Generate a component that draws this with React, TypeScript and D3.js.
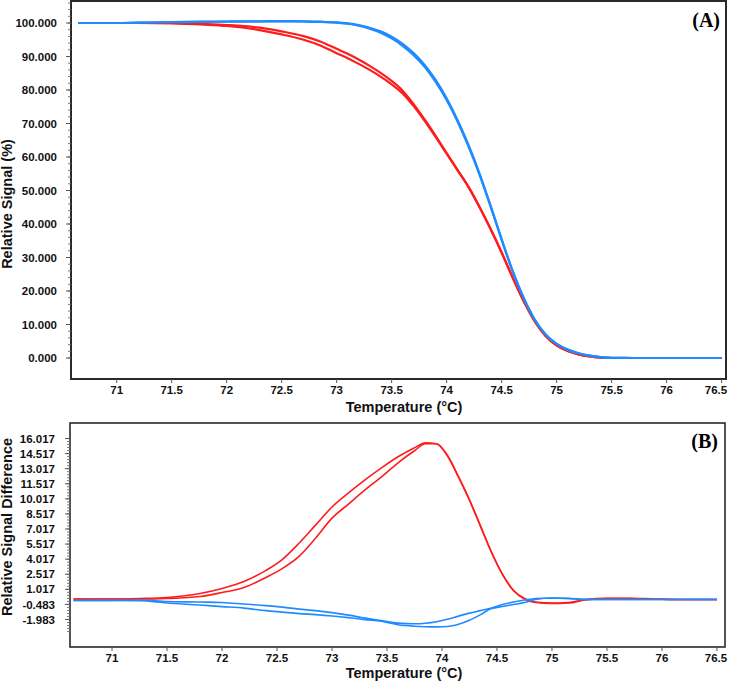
import React, { useEffect, useRef } from 'react';
import * as d3 from 'd3';

// ---------- Panel A: relative signal (%) ----------
const tempA = [70.65, 71.0, 71.2, 71.5, 71.8, 72.0, 72.3, 72.5, 72.7, 72.85, 73.0, 73.1, 73.2, 73.3, 73.4, 73.5, 73.6, 73.7, 73.8, 73.9, 74.0, 74.1, 74.2, 74.3, 74.4, 74.5, 74.6, 74.7, 74.8, 74.9, 75.0, 75.1, 75.2, 75.3, 75.4, 75.5, 75.7, 76.0, 76.5];
const redA1 = [100, 100, 100, 99.9, 99.5, 99.1, 97.9, 96.6, 95.0, 93.3, 91.0, 89.5, 87.8, 86.0, 84.0, 81.7, 79.0, 75.2, 70.8, 66.0, 61.0, 56.0, 51.0, 45.0, 38.5, 31.5, 24.0, 17.0, 11.0, 6.6, 3.8, 2.1, 1.1, 0.45, 0.1, 0, 0, 0, 0];
const redA2 = [100, 100, 100, 100, 99.7, 99.4, 98.6, 97.5, 96.1, 94.5, 92.3, 90.8, 89.1, 87.2, 85.1, 82.7, 79.8, 75.8, 71.2, 66.3, 61.2, 56.1, 51.0, 45.0, 38.5, 31.5, 24.0, 17.0, 11.0, 6.6, 3.8, 2.1, 1.1, 0.45, 0.1, 0, 0, 0, 0];
const blueA1 = [100, 100, 100.15, 100.3, 100.4, 100.45, 100.5, 100.55, 100.5, 100.4, 100.2, 99.9, 99.4, 98.6, 97.5, 95.9, 93.8, 91.0, 87.5, 83.0, 77.5, 71.0, 63.5, 55.0, 45.5, 35.5, 26.0, 18.0, 11.5, 7.0, 4.2, 2.5, 1.4, 0.7, 0.25, 0.05, 0, 0, 0];
const blueA2 = [100, 100, 100.1, 100.25, 100.35, 100.4, 100.45, 100.5, 100.45, 100.35, 100.1, 99.8, 99.2, 98.3, 97.1, 95.4, 93.2, 90.4, 86.9, 82.4, 77.0, 70.5, 63.0, 54.6, 45.2, 35.3, 25.9, 17.9, 11.5, 7.0, 4.2, 2.5, 1.4, 0.7, 0.25, 0.05, 0, 0, 0];
const yTicksA = [0, 10, 20, 30, 40, 50, 60, 70, 80, 90, 100];

// ---------- Panel B: relative signal difference ----------
const tempB = [70.65, 71.0, 71.25, 71.5, 71.8, 72.0, 72.2, 72.4, 72.55, 72.7, 72.85, 73.0, 73.15, 73.3, 73.45, 73.6, 73.75, 73.85, 73.95, 74.05, 74.15, 74.25, 74.35, 74.45, 74.55, 74.65, 74.75, 74.85, 75.0, 75.15, 75.3, 75.5, 75.7, 75.9, 76.2, 76.5];
const redB1 = [0.05, 0.05, 0.1, 0.2, 0.6, 1.1, 1.8, 2.9, 4.0, 5.6, 7.4, 9.2, 10.6, 11.9, 13.1, 14.2, 15.1, 15.6, 15.5, 14.3, 12.2, 9.9, 7.3, 4.7, 2.5, 0.9, 0.1, -0.25, -0.35, -0.3, 0.0, 0.12, 0.12, 0.08, 0.0, 0.0];
const redB2 = [0.05, 0.05, 0.05, 0.1, 0.3, 0.7, 1.2, 2.2, 3.1, 4.3, 6.1, 8.1, 9.5, 10.9, 12.2, 13.6, 14.8, 15.5, 15.5, 14.3, 12.2, 9.9, 7.3, 4.7, 2.5, 0.9, 0.05, -0.3, -0.4, -0.35, -0.05, 0.1, 0.1, 0.06, 0.0, 0.0];
const blueB1 = [-0.1, -0.08, -0.05, -0.2, -0.25, -0.3, -0.45, -0.6, -0.75, -0.95, -1.1, -1.3, -1.55, -1.85, -2.1, -2.35, -2.4, -2.35, -2.2, -1.95, -1.65, -1.35, -1.1, -0.85, -0.5, -0.25, -0.05, 0.1, 0.15, 0.1, 0, 0, 0, 0, 0, 0];
const blueB2 = [-0.1, -0.1, -0.12, -0.35, -0.55, -0.7, -0.85, -1.1, -1.25, -1.4, -1.5, -1.63, -1.8, -2.0, -2.15, -2.5, -2.65, -2.7, -2.72, -2.68, -2.45, -2.05, -1.5, -0.9, -0.7, -0.5, -0.3, 0.0, 0.15, 0.12, 0.02, 0, 0, 0, 0, 0];
const yTicksB = [-1.983, -0.483, 1.017, 2.517, 4.017, 5.517, 7.017, 8.517, 10.017, 11.517, 13.017, 14.517, 16.017];

const xTicks = [71, 71.5, 72, 72.5, 73, 73.5, 74, 74.5, 75, 75.5, 76, 76.5];

const RED = '#ff1c1c';
const BLUE = '#1f8bff';
const SANS = '"Liberation Sans", Arial, sans-serif';
const SERIF = '"Liberation Serif", "Times New Roman", serif';

type PanelCfg = {
  frame: { l: number; r: number; t: number; b: number };
  xDom: [number, number];
  yDom: [number, number];
  temps: number[];
  reds: number[][];
  blues: number[][];
  yTicks: number[];
  yFmt: (v: number) => string;
  minorStep: number;
  minorFrom: number;
  minorTo: number;
  yTitle: string;
  yTitleY: number;
  label: string;
  labelX: number;
  labelY: number;
  xTitleY: number;
  lineW: number;
  frameW: number;
  labelGap: number;
};

function drawPanel(svg: d3.Selection<SVGSVGElement, unknown, null, undefined>, c: PanelCfg) {
  const { l, r, t, b } = c.frame;
  const x = d3.scaleLinear().domain(c.xDom).range([l, r]);
  const y = d3.scaleLinear().domain(c.yDom).range([b, t]);
  const g = svg.append('g');

  const line = (vals: number[]) =>
    d3.line<number>()
      .x((_, i) => x(c.temps[i]))
      .y((d) => y(d))
      .curve(d3.curveMonotoneX)(vals) as string;

  c.reds.forEach((vals) => {
    g.append('path').attr('d', line(vals)).attr('fill', 'none').attr('stroke', RED).attr('stroke-width', c.lineW);
  });
  c.blues.forEach((vals) => {
    g.append('path').attr('d', line(vals)).attr('fill', 'none').attr('stroke', BLUE).attr('stroke-width', c.lineW);
  });

  // frame
  g.append('rect').attr('x', l).attr('y', t).attr('width', r - l).attr('height', b - t)
    .attr('fill', 'none').attr('stroke', '#2a2a2a').attr('stroke-width', c.frameW);

  // minor y ticks
  const minor = d3.range(c.minorFrom, c.minorTo + 1e-6, c.minorStep);
  g.selectAll(null).data(minor).enter().append('line')
    .attr('x1', l - 3).attr('x2', l).attr('y1', (d) => y(d)).attr('y2', (d) => y(d))
    .attr('stroke', '#777').attr('stroke-width', 1);
  // major y ticks
  g.selectAll(null).data(c.yTicks).enter().append('line')
    .attr('x1', l - 5).attr('x2', l).attr('y1', (d) => y(d)).attr('y2', (d) => y(d))
    .attr('stroke', '#555').attr('stroke-width', 1);
  g.selectAll(null).data(c.yTicks).enter().append('text')
    .attr('x', l - c.labelGap).attr('y', (d) => y(d)).attr('dy', '0.36em')
    .attr('text-anchor', 'end').attr('font-family', SANS).attr('font-weight', 'bold')
    .attr('font-size', 11.5).attr('fill', '#111').text((d) => c.yFmt(d));

  // x ticks
  g.selectAll(null).data(xTicks).enter().append('line')
    .attr('x1', (d) => x(d)).attr('x2', (d) => x(d)).attr('y1', b).attr('y2', b + 4)
    .attr('stroke', '#555').attr('stroke-width', 1);
  g.selectAll(null).data(xTicks).enter().append('text')
    .attr('x', (d) => Math.min(x(d), 716))
    .attr('y', b + 15)
    .attr('text-anchor', 'middle').attr('font-family', SANS).attr('font-weight', 'bold')
    .attr('font-size', 11.5).attr('fill', '#111').text((d) => String(d));

  // titles
  g.append('text').attr('x', 404).attr('y', c.xTitleY).attr('text-anchor', 'middle')
    .attr('font-family', SANS).attr('font-weight', 'bold').attr('font-size', 14.5)
    .attr('fill', '#111').text('Temperature (°C)');
  g.append('text').attr('transform', `translate(12,${c.yTitleY}) rotate(-90)`).attr('text-anchor', 'middle')
    .attr('font-family', SANS).attr('font-weight', 'bold').attr('font-size', 14.5)
    .attr('fill', '#111').text(c.yTitle);

  g.append('text').attr('x', c.labelX).attr('y', c.labelY).attr('text-anchor', 'end')
    .attr('font-family', SERIF).attr('font-weight', 'bold').attr('font-size', 20)
    .attr('fill', '#000').text(c.label);
}

export default function App() {
  const ref = useRef<SVGSVGElement>(null);
  useEffect(() => {
    if (!ref.current) return;
    const svg = d3.select(ref.current);
    svg.selectAll('*').remove();
    drawPanel(svg, {
      frame: { l: 71, r: 726, t: 1, b: 379 },
      xDom: [70.585, 76.54],
      yDom: [-6.27, 106.57],
      temps: tempA,
      reds: [redA1, redA2],
      blues: [blueA1, blueA2],
      yTicks: yTicksA,
      yFmt: (v) => v.toFixed(3),
      minorStep: 2,
      minorFrom: 0,
      minorTo: 106,
      yTitle: 'Relative Signal (%)',
      yTitleY: 204,
      label: '(A)',
      labelX: 720,
      labelY: 27,
      xTitleY: 412,
      lineW: 2.2,
      frameW: 2,
      labelGap: 14,
    });
    drawPanel(svg, {
      frame: { l: 70, r: 725, t: 423, b: 647 },
      xDom: [70.618, 76.573],
      yDom: [-4.72, 17.56],
      temps: tempB,
      reds: [redB1, redB2],
      blues: [blueB1, blueB2],
      yTicks: yTicksB,
      yFmt: (v) => v.toFixed(3),
      minorStep: 0.3,
      minorFrom: -3.183,
      minorTo: 16.017,
      yTitle: 'Relative Signal Difference',
      yTitleY: 527,
      label: '(B)',
      labelX: 718,
      labelY: 448,
      xTitleY: 678,
      lineW: 1.6,
      frameW: 1.6,
      labelGap: 15,
    });
  }, []);
  return (
    <svg ref={ref} width={729} height={681}
      style={{ position: 'absolute', left: 0, top: 0, background: '#fff', display: 'block' }} />
  );
}
